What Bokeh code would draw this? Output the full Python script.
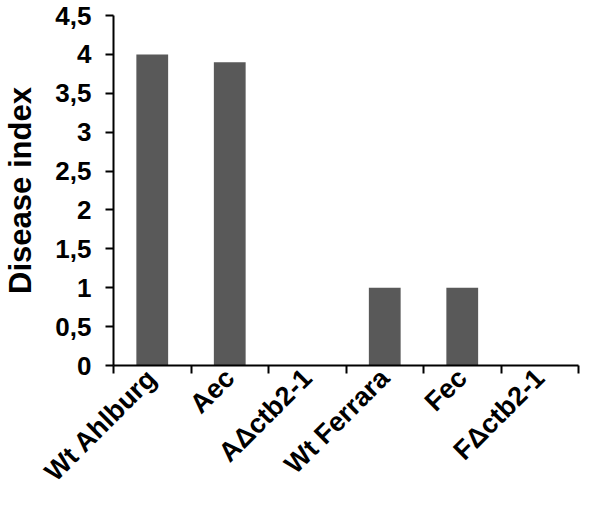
import math
from bokeh.plotting import figure
from bokeh.models import Range1d, FixedTicker
from bokeh.embed import file_html
from bokeh.resources import INLINE

categories = ["Wt Ahlburg", "Aec", "A\u0394ctb2-1", "Wt Ferrara", "Fec", "F\u0394ctb2-1"]
disease_index = [4.0, 3.9, 0.0, 1.0, 1.0, 0.0]
y_ticks = [0, 0.5, 1, 1.5, 2, 2.5, 3, 3.5, 4, 4.5]
y_tick_labels = ["0", "0,5", "1", "1,5", "2", "2,5", "3", "3,5", "4", "4,5"]

FONT = "Liberation Sans"

n = len(categories)
centers = [i + 0.5 for i in range(n)]
edges = list(range(n + 1))

p = figure(
    x_range=Range1d(0, n),
    y_range=Range1d(0, 4.5),
    width=584, height=500,
    output_backend="svg", toolbar_location=None,
    min_border_top=15, min_border_bottom=128, min_border_right=6, min_border_left=109,
)
p.outline_line_color = None
p.xgrid.visible = False
p.ygrid.visible = False

p.vbar(x=centers, top=disease_index, width=0.41, fill_color="#595959", line_color=None)

# y axis
ya = p.yaxis[0]
ya.ticker = FixedTicker(ticks=y_ticks)
ya.major_label_overrides = dict(zip(y_ticks, y_tick_labels))
ya.minor_tick_line_color = None
ya.major_tick_in = 0
ya.major_tick_out = 8
ya.major_tick_line_width = 2
ya.axis_line_width = 2
ya.major_label_text_font = FONT
ya.major_label_text_font_style = "bold"
ya.major_label_text_font_size = "26px"
ya.major_label_text_color = "black"
ya.major_label_standoff = 14
ya.axis_label = "Disease index"
ya.axis_label_text_font = FONT
ya.axis_label_text_font_style = "bold"
ya.axis_label_text_font_size = "31px"
ya.axis_label_text_color = "black"
ya.axis_label_standoff = 14

# x axis: labels at category centres, tick marks at category boundaries
xa = p.xaxis[0]
xa.ticker = FixedTicker(ticks=centers, minor_ticks=edges)
xa.major_label_overrides = dict(zip(centers, categories))
xa.major_tick_line_color = None
xa.major_tick_in = 0
xa.major_tick_out = 8
xa.minor_tick_in = 0
xa.minor_tick_out = 8
xa.minor_tick_line_width = 2
xa.minor_tick_line_color = "black"
xa.axis_line_width = 2
xa.major_label_orientation = math.pi / 4
xa.major_label_text_font = FONT
xa.major_label_text_font_style = "bold"
xa.major_label_text_font_size = "27px"
xa.major_label_text_color = "black"
xa.major_label_standoff = 0

open("out.html", "w").write(file_html(p, INLINE))
